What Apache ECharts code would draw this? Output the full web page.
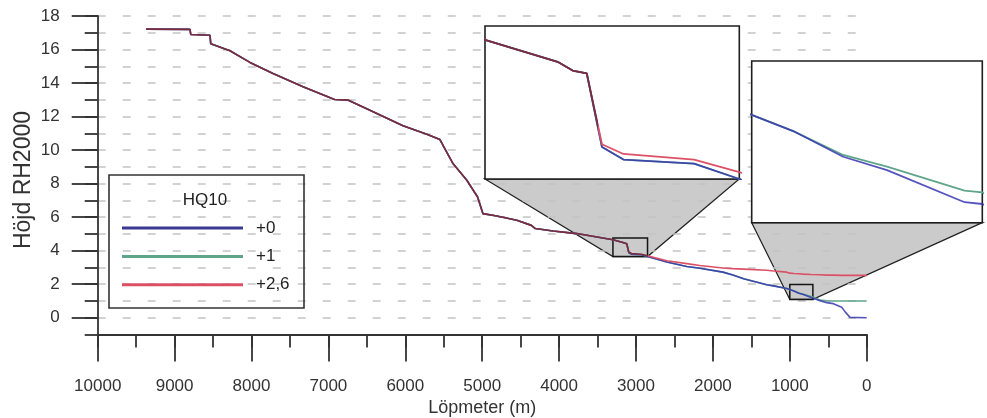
<!DOCTYPE html>
<html><head><meta charset="utf-8">
<script src="https://cdn.jsdelivr.net/npm/echarts@6/dist/echarts.min.js"></script>
<style>html,body{margin:0;padding:0;background:#fff}#c{width:987px;height:418px}</style>
</head><body><div id="c"></div>
<script>
// ---- data ----
const lopmeter = [9370,8800,8790,8540,8530,8280,8020,7720,7330,6920,6740,6460,6030,5720,5550,5380,5200,5060,4990,4810,4550,4360,4310,4080,3770,3300,3170,3145,3120,3093,3055,2930,2850,2600,2340,2170,1870,1740,1600,1300,1210,1040,1000,946,881,824,723,700,607,520,434,325,280,217,195,0];
const hq10_plus0 = [17.22,17.20,16.90,16.85,16.35,15.93,15.23,14.57,13.78,13.02,12.98,12.38,11.45,10.95,10.63,9.20,8.20,7.20,6.21,6.07,5.81,5.51,5.32,5.17,5.02,4.65,4.49,4.43,4.41,3.88,3.79,3.76,3.65,3.32,3.06,2.95,2.72,2.55,2.33,1.97,1.90,1.74,1.69,1.60,1.457,1.383,1.204,1.194,1.02,0.90,0.84,0.62,0.35,0.02,0.00,0.00];
const hq10_plus1 = [17.22,17.20,16.90,16.85,16.35,15.93,15.23,14.57,13.78,13.02,12.98,12.38,11.45,10.95,10.63,9.20,8.20,7.20,6.21,6.07,5.81,5.51,5.32,5.17,5.02,4.65,4.49,4.43,4.41,3.88,3.79,3.76,3.65,3.32,3.06,2.95,2.72,2.55,2.33,1.97,1.90,1.74,1.69,1.60,1.467,1.402,1.268,1.259,1.06,1.01,1.00,1.00,1.00,1.00,1.00,1.00];
const hq10_plus26 = [17.22,17.20,16.90,16.85,16.35,15.93,15.23,14.57,13.78,13.02,12.98,12.38,11.45,10.95,10.63,9.20,8.20,7.20,6.21,6.07,5.81,5.51,5.32,5.17,5.02,4.65,4.49,4.43,4.41,3.90,3.83,3.79,3.70,3.40,3.23,3.12,2.97,2.93,2.90,2.83,2.79,2.72,2.66,2.64,2.62,2.60,2.58,2.58,2.56,2.54,2.54,2.53,2.53,2.53,2.53,2.53];
const seriesNames = ['+0','+1','+2,6'];
const yMajorTicks = [0,2,4,6,8,10,12,14,16,18];
const inset1X = [2850,3300];
const inset1Y = [3.65,4.75];
const inset2X = [700,1000];
const inset2Y = [1.09,1.99];

// ---- style / layout ----
const FONT = 'Liberation Sans, Arial, sans-serif';
const C_BLUE = '#3636b0', C_GREEN = '#5fa58a', C_RED = '#dc5066', C_DARK = '#7e2c3c';
const mainGrid = {left:97.7, top:16, width:769, height:318.5};
const in1 = {left:485, top:26, width:254.3, height:153};
const in2 = {left:751.7, top:61, width:230.6, height:161.7};

const pairs = ys => lopmeter.map((x,i)=>[x, ys[i]]);
const values = [hq10_plus0, hq10_plus1, hq10_plus26];
const colors = [C_BLUE, C_GREEN, C_RED];
const order = [1,0,2]; // draw green, blue, red

const series = [];
[0,1,2].forEach(g=>{
  order.forEach(k=>{
    const s = {
      type:'line', name:seriesNames[k], xAxisIndex: g===0?0:g+1, yAxisIndex: g===0?0:g+1,
      data: pairs(values[k]), symbol:'none', silent:true, animation:false,
      z: g===0?2:6,
      lineStyle:{width: g===0?1.6:1.8, opacity: k===0?0.85:1}
    };
    if (!(k===2 && g<2)) { s.lineStyle.color = colors[k]; s.itemStyle = {color:colors[k]}; }
    if (g===0 && k===1) {
      s.markArea = {silent:true, label:{show:false},
        itemStyle:{color:'rgba(0,0,0,0)', borderColor:'#151515', borderWidth:1.5},
        data:[[{coord:[inset1X[1],inset1Y[1]]},{coord:[inset1X[0],inset1Y[0]]}],
              [{coord:[inset2X[1],inset2Y[1]]},{coord:[inset2X[0],inset2Y[0]]}]]};
    }
    series.push(s);
  });
});
// red series indices: main=2, inset1=5

const axisLineStyle = {color:'#333', width:1.8};
const option = {
  animation:false,
  backgroundColor:'#fff',
  grid:[
    Object.assign({outerBoundsMode:'none', containLabel:false}, mainGrid),
    Object.assign({outerBoundsMode:'none', show:true, z:5, backgroundColor:'#fff', borderColor:'#1e1e1e', borderWidth:1.6}, in1),
    Object.assign({outerBoundsMode:'none', show:true, z:5, backgroundColor:'#fff', borderColor:'#1e1e1e', borderWidth:1.6}, in2)
  ],
  xAxis:[
    {type:'value', gridIndex:0, inverse:true, min:0, max:10000, interval:500, position:'bottom',
     axisLine:{show:true, onZero:false, lineStyle:axisLineStyle},
     axisTick:{show:true, length:13, lineStyle:{color:'#333', width:1.8}},
     axisLabel:{margin:43, fontSize:17, color:'#333', fontFamily:FONT, formatter:v=> v%1000===0 ? String(v) : ''},
     splitLine:{show:false},
     name:'Löpmeter (m)', nameLocation:'middle', nameGap:64,
     nameTextStyle:{fontSize:18, color:'#333', fontFamily:FONT}},
    {type:'value', gridIndex:0, inverse:true, min:0, max:10000, interval:1000, position:'bottom',
     axisLine:{show:false, onZero:false}, axisTick:{show:true, length:27, lineStyle:{color:'#333', width:1.8}},
     axisLabel:{show:false}, splitLine:{show:false}},
    {type:'value', gridIndex:1, inverse:true, min:inset1X[0], max:inset1X[1], show:false},
    {type:'value', gridIndex:2, inverse:true, min:inset2X[0], max:inset2X[1], show:false}
  ],
  yAxis:[
    {type:'value', gridIndex:0, position:'left', min:-1, max:18, interval:1,
     axisLine:{show:true, onZero:false, lineStyle:axisLineStyle},
     axisTick:{show:true, length:13, lineStyle:{color:'#333', width:1.8}},
     axisLabel:{margin:38, fontSize:17, color:'#333', fontFamily:FONT, formatter:v=> (v>=0 && v%2===0) ? String(v) : ''},
     splitLine:{show:true, lineStyle:{color:'#c4c4c4', width:1.5, type:[8,17], dashOffset:0}}},
    {type:'value', gridIndex:0, position:'left', min:-1, max:18,
     axisLine:{show:false, onZero:false}, axisTick:{show:true, length:26, customValues:yMajorTicks, lineStyle:{color:'#333', width:1.8}},
     axisLabel:{show:false}, splitLine:{show:false}},
    {type:'value', gridIndex:1, min:inset1Y[0], max:inset1Y[1], show:false},
    {type:'value', gridIndex:2, min:inset2Y[0], max:inset2Y[1], show:false}
  ],
  visualMap:[
    {type:'piecewise', show:false, seriesIndex:2, dimension:0,
     pieces:[{gte:2850, lte:10000, color:C_DARK},{gte:0, lt:2850, color:C_RED}]},
    {type:'piecewise', show:false, seriesIndex:5, dimension:0,
     pieces:[{gte:3100, lte:10000, color:C_DARK},{gte:0, lt:3100, color:C_RED}]}
  ],
  legend:{
    orient:'vertical', left:122, top:219.5, padding:0, itemWidth:121, itemHeight:3, itemGap:11.4,
    data:[
      {name:'+0', icon:'rect', itemStyle:{color:'#3a3a95'}},
      {name:'+1', icon:'rect', itemStyle:{color:C_GREEN}},
      {name:'+2,6', icon:'rect', itemStyle:{color:C_RED}}
    ],
    selectedMode:false,
    textStyle:{fontSize:17, color:'#222', fontFamily:FONT, padding:[0,0,0,8]}
  },
  series: series
};

const chart = echarts.init(document.getElementById('c'), null, {renderer:'canvas'});
chart.setOption(option);

function connector(inset, xr, yr){
  const fd = {xAxisIndex:0, yAxisIndex:0};
  const bl = chart.convertToPixel(fd, [xr[1], yr[0]]);
  const br = chart.convertToPixel(fd, [xr[0], yr[0]]);
  return {type:'polygon', z:-1, silent:true,
    shape:{points:[[inset.left, inset.top+inset.height],[inset.left+inset.width, inset.top+inset.height], br, bl]},
    style:{fill:'rgba(130,130,130,0.42)', stroke:'#222', lineWidth:1.3}};
}
chart.setOption({graphic:[
  connector(in1, inset1X, inset1Y),
  connector(in2, inset2X, inset2Y),
  {type:'rect', z:10, silent:true, shape:{x:109, y:175, width:195, height:133},
   style:{fill:'none', stroke:'#333', lineWidth:1.6}},
  {type:'text', z:10, silent:true, x:205, y:200,
   style:{text:'HQ10', fontSize:17, fontFamily:FONT, fill:'#222', align:'center', verticalAlign:'middle'}},
  {type:'text', z:10, silent:true, x:23.3, y:180, rotation:Math.PI/2,
   style:{text:'Höjd RH2000', fontSize:23, fontFamily:FONT, fill:'#333', align:'center', verticalAlign:'middle'}}
]});
</script>
</body></html>
